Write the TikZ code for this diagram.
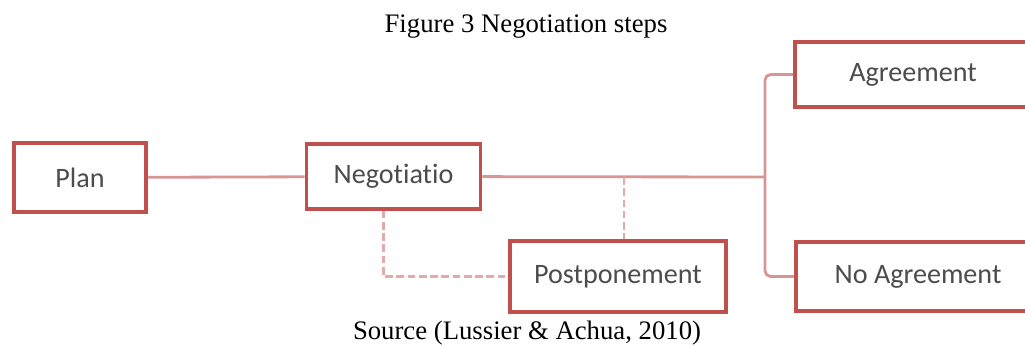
\documentclass[tikz,border=0pt]{standalone}
\usepackage{fontspec}
\setmainfont{Liberation Serif}
\newfontfamily\boxfont[Ligatures=NoCommon]{Carlito}
\usepackage{xcolor}
\usepackage{tikz}
\usetikzlibrary{positioning}
\definecolor{boxred}{RGB}{192,80,77}
\definecolor{linered}{RGB}{214,150,148}
\definecolor{dashred}{RGB}{226,170,168}
\tikzset{
	rectnode/.style={rectangle, draw=boxred, fill=white, line width=2.6pt, inner sep=0pt, text=black!70, font=\boxfont\fontsize{20}{24}\selectfont},
	linkline/.style={draw=linered, line width=2pt},
	mydotted/.style = {draw=dashred, line width=2pt, dash pattern=on 5.5pt off 2.5pt}
}

\begin{document}
\begin{tikzpicture}[x=0.025cm, y=-0.025cm]
		\useasboundingbox (0,0) rectangle (1025,345);
		\node at (526,27) (title) {\fontsize{19}{22}\selectfont Figure 3 Negotiation steps};
		\node at (527,333) (src) {\fontsize{19}{22}\selectfont Source (Lussier \& Achua, 2010)};

		\coordinate (split) at (765,177);
		\coordinate (tap) at (624,177);

		\node[rectnode, minimum width=3.3cm, minimum height=1.72cm] at (80,177.5) (plan) {Plan};
		\node[rectnode, minimum width=4.35cm, minimum height=1.62cm] at (393.5,176.5) (nego) {Negotiatio};
		\node[rectnode, minimum width=5.4cm, minimum height=1.78cm] at (618,276.5) (post) {Postponement};
		\node[rectnode, minimum width=5.9cm, minimum height=1.62cm] at (913,74.5) (agr) {Agreement};
		\node[rectnode, minimum width=6.1cm, minimum height=1.72cm] at (918,276.5) (noagr) {No Agreement};

		\draw[linkline] (plan) -- (nego);
		\draw[linkline] (nego) -- (split);
		\draw[linkline, rounded corners=4pt] (agr.west) -| (split) |- (noagr.west);
		\draw[mydotted] (tap) -- (tap |- post.north);
		\draw[mydotted] ([xshift=-0.25cm]nego.south) |- (post.west);

	\end{tikzpicture}
\end{document}
